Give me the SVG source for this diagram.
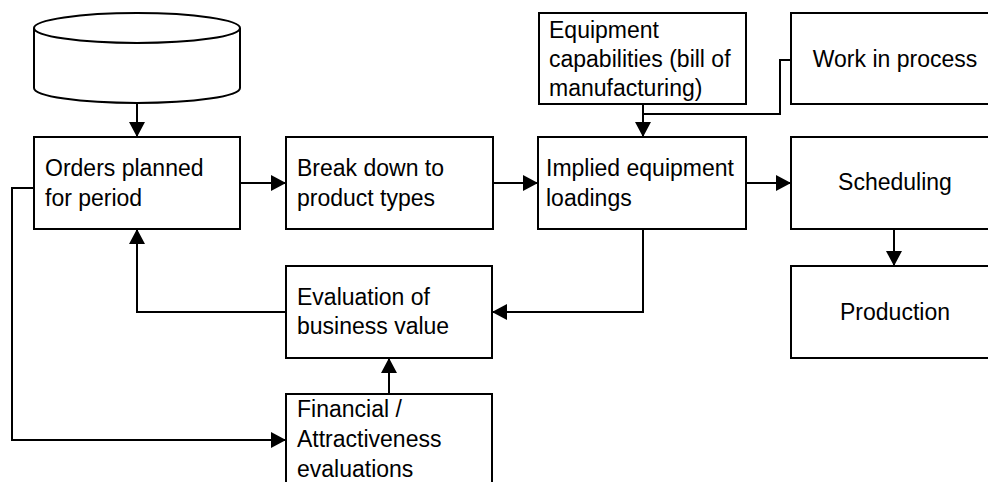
<svg xmlns="http://www.w3.org/2000/svg" width="988" height="482" viewBox="0 0 988 482">
  <style>
    .box { fill: #ffffff; stroke: #000000; stroke-width: 2; }
    .lbl { font-family: "Liberation Sans", Arial, sans-serif; font-size: 23px; fill: #000000; }
    .mid { text-anchor: middle; }
    .wire { fill: none; stroke: #000000; stroke-width: 2; }
    .arrow { marker-end: url(#head); }
  </style>
  <defs>
    <marker id="head" markerUnits="userSpaceOnUse" markerWidth="15" markerHeight="16" refX="15" refY="8" orient="auto">
      <path d="M0,0 L15,8 L0,16 Z" fill="#000000"/>
    </marker>
  </defs>
  <rect width="988" height="482" fill="#ffffff"/>

  <g id="connectors">
    <path class="wire arrow" d="M137,104 V137"/>
    <path class="wire arrow" d="M240,183 H286"/>
    <path class="wire arrow" d="M493,183 H538"/>
    <path class="wire arrow" d="M746,183 H791"/>
    <path class="wire arrow" d="M643,104 V137"/>
    <path class="wire" d="M791,60 H780 V114 H643"/>
    <path class="wire arrow" d="M894,229 V266"/>
    <path class="wire arrow" d="M643,229 V312 H492"/>
    <path class="wire arrow" d="M286,312 H137 V229"/>
    <path class="wire arrow" d="M389,394 V358"/>
    <path class="wire arrow" d="M34,188 H12 V440 H286"/>
  </g>

  <g id="order-store">
    <path class="box" d="M34,28 V88 A103,15 0 0 0 240,88 V28"/>
    <ellipse class="box" cx="137" cy="28" rx="103" ry="15"/>
  </g>

  <g id="orders-planned">
    <rect class="box" x="34" y="137" width="206" height="92"/>
    <text class="lbl" x="45" y="176">Orders planned</text>
    <text class="lbl" x="45" y="206">for period</text>
  </g>

  <g id="break-down">
    <rect class="box" x="286" y="137" width="207" height="92"/>
    <text class="lbl" x="297" y="176">Break down to</text>
    <text class="lbl" x="297" y="206">product types</text>
  </g>

  <g id="implied-loadings">
    <rect class="box" x="538" y="137" width="208" height="92"/>
    <text class="lbl" x="546" y="176">Implied equipment</text>
    <text class="lbl" x="546" y="206">loadings</text>
  </g>

  <g id="equipment-capabilities">
    <rect class="box" x="539" y="13" width="207" height="91"/>
    <text class="lbl" x="549" y="38">Equipment</text>
    <text class="lbl" x="549" y="67">capabilities (bill of</text>
    <text class="lbl" x="549" y="96">manufacturing)</text>
  </g>

  <g id="work-in-process">
    <rect class="box" x="791" y="13" width="210" height="91"/>
    <text class="lbl mid" x="895" y="67">Work in process</text>
  </g>

  <g id="scheduling">
    <rect class="box" x="791" y="137" width="210" height="92"/>
    <text class="lbl mid" x="895" y="190">Scheduling</text>
  </g>

  <g id="production">
    <rect class="box" x="791" y="266" width="210" height="92"/>
    <text class="lbl mid" x="895" y="320">Production</text>
  </g>

  <g id="business-value">
    <rect class="box" x="286" y="266" width="206" height="92"/>
    <text class="lbl" x="297" y="305">Evaluation of</text>
    <text class="lbl" x="297" y="334">business value</text>
  </g>

  <g id="financial-evaluations">
    <rect class="box" x="286" y="394" width="206" height="100"/>
    <text class="lbl" x="297" y="417">Financial /</text>
    <text class="lbl" x="297" y="447">Attractiveness</text>
    <text class="lbl" x="297" y="477">evaluations</text>
  </g>
</svg>
